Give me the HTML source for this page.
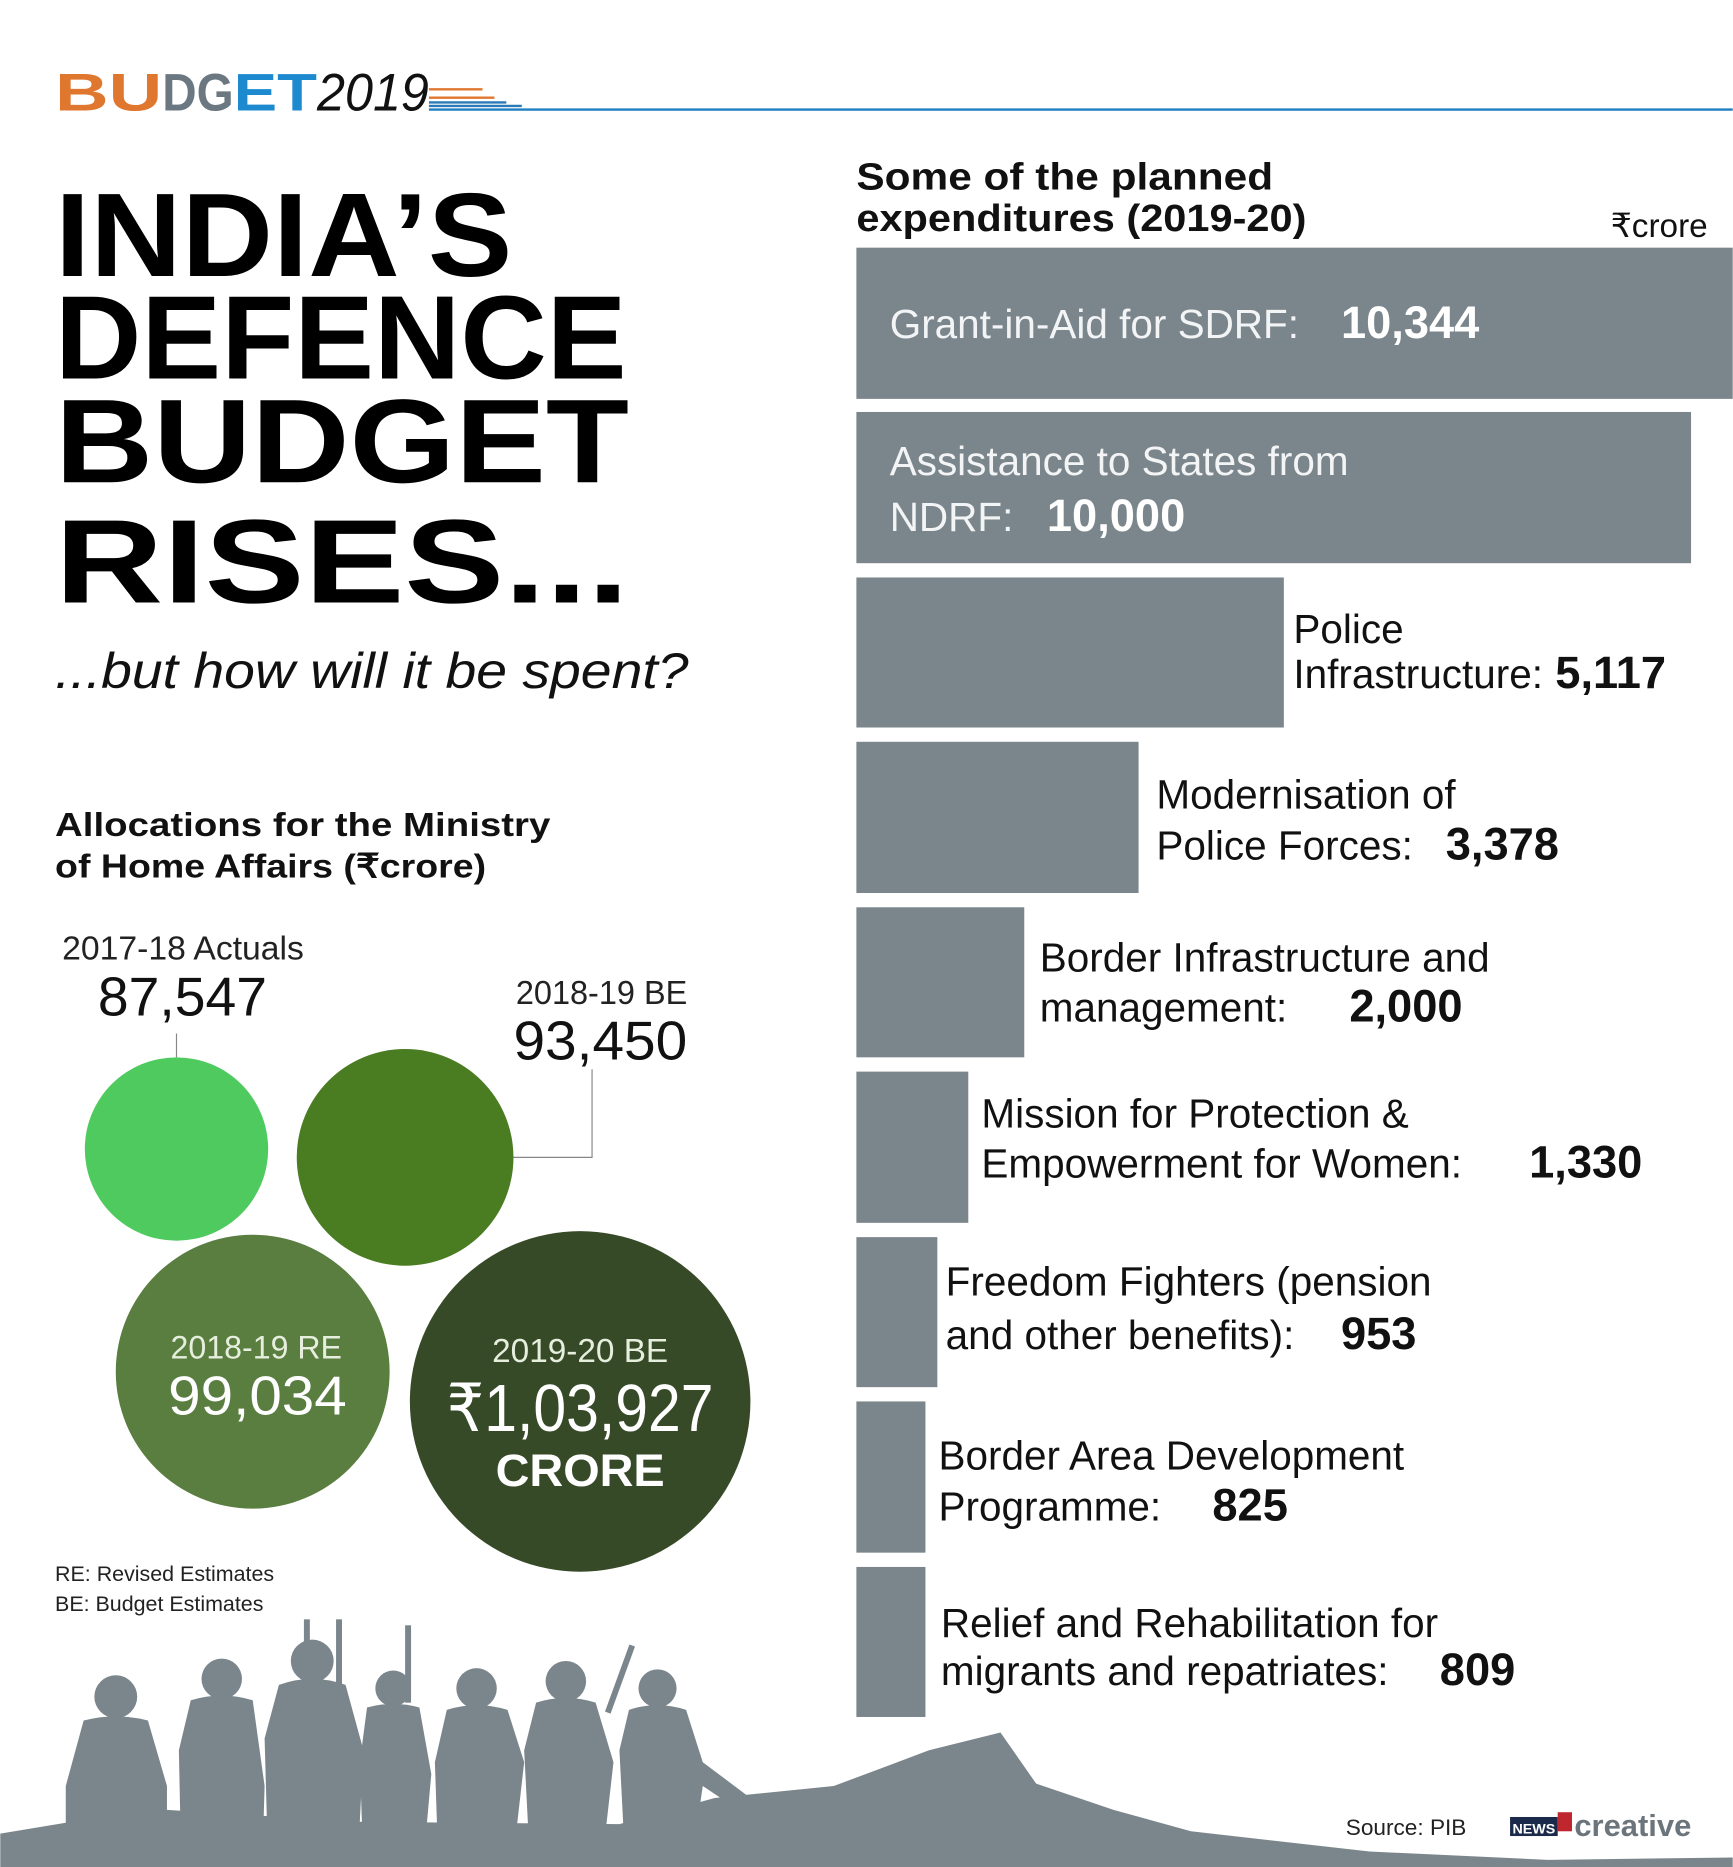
<!DOCTYPE html>
<html><head><meta charset="utf-8"><style>html,body{margin:0;padding:0;background:#fff}svg{display:block}</style></head>
<body>
<svg width="1733" height="1867" viewBox="0 0 1455 1568" xmlns="http://www.w3.org/2000/svg" font-family="Liberation Sans, sans-serif">
<rect width="1455" height="1568" fill="#fff"/>
<!-- header -->
<text x="46" y="93" font-size="44" font-weight="bold" fill="#e0772f" textLength="90" lengthAdjust="spacingAndGlyphs">BU</text>
<text x="136" y="93" font-size="44" font-weight="bold" fill="#6b7882" textLength="60" lengthAdjust="spacingAndGlyphs">DG</text>
<text x="196" y="93" font-size="44" font-weight="bold" fill="#1d8ad0" textLength="70" lengthAdjust="spacingAndGlyphs">ET</text>
<text x="266" y="93" font-size="44" font-style="italic" fill="#111" textLength="94" lengthAdjust="spacingAndGlyphs">2019</text>
<g stroke="#e0772f" stroke-width="2"><line x1="360" y1="75" x2="405" y2="75"/><line x1="360" y1="82" x2="415" y2="82"/></g>
<g stroke="#2a7ab8" stroke-width="2"><line x1="360" y1="86" x2="425" y2="86"/><line x1="360" y1="89" x2="438" y2="89"/></g>
<line x1="360" y1="92" x2="1455" y2="92" stroke="#1f7fc0" stroke-width="2"/>
<!-- title -->
<g font-weight="bold" fill="#000" font-size="100">
<text x="46" y="232" textLength="384" lengthAdjust="spacingAndGlyphs">INDIA’S</text>
<text x="46" y="318" textLength="480" lengthAdjust="spacingAndGlyphs">DEFENCE</text>
<text x="46" y="405" textLength="482" lengthAdjust="spacingAndGlyphs">BUDGET</text>
<text x="46" y="506" textLength="482" lengthAdjust="spacingAndGlyphs">RISES...</text>
</g>
<text x="46" y="578" font-size="42" font-style="italic" fill="#111" textLength="532" lengthAdjust="spacingAndGlyphs">...but how will it be spent?</text>
<text x="46" y="702" font-size="28" font-weight="bold" fill="#111" textLength="416" lengthAdjust="spacingAndGlyphs">Allocations for the Ministry</text>
<text x="46" y="737" font-size="28" font-weight="bold" fill="#111" textLength="362" lengthAdjust="spacingAndGlyphs">of Home Affairs (₹crore)</text>
<!-- circles -->
<text x="52" y="806" font-size="28" fill="#222" textLength="203" lengthAdjust="spacingAndGlyphs">2017-18 Actuals</text>
<text x="82" y="853" font-size="46" fill="#111" textLength="142" lengthAdjust="spacingAndGlyphs">87,547</text>
<line x1="148" y1="868" x2="148" y2="888" stroke="#888"/>
<circle cx="148" cy="965" r="77" fill="#4fca5f"/>
<text x="433" y="843" font-size="28" fill="#222" textLength="144" lengthAdjust="spacingAndGlyphs">2018-19 BE</text>
<text x="431" y="890" font-size="46" fill="#111" textLength="146" lengthAdjust="spacingAndGlyphs">93,450</text>
<polyline points="497,898 497,972 430,972" fill="none" stroke="#888"/>
<circle cx="340" cy="972" r="91" fill="#4a7c22"/>
<circle cx="212" cy="1152" r="115" fill="#5a7d40"/>
<text x="215" y="1141" font-size="27" fill="#e6eedd" text-anchor="middle">2018-19 RE</text>
<text x="216" y="1188" font-size="46" fill="#fff" text-anchor="middle" textLength="150" lengthAdjust="spacingAndGlyphs">99,034</text>
<circle cx="487" cy="1177" r="143" fill="#374a28"/>
<text x="487" y="1144" font-size="28" fill="#e6eedd" text-anchor="middle">2019-20 BE</text>
<text x="487" y="1202" font-size="56" fill="#fff" text-anchor="middle" textLength="224" lengthAdjust="spacingAndGlyphs">₹1,03,927</text>
<text x="487" y="1248" font-size="38" font-weight="bold" fill="#fff" text-anchor="middle" textLength="142" lengthAdjust="spacingAndGlyphs">CRORE</text>
<text x="46" y="1328" font-size="18" fill="#222">RE:  Revised Estimates</text>
<text x="46" y="1353" font-size="18" fill="#222">BE: Budget Estimates</text>
<!-- soldiers -->
<g fill="#7b868c">
<path d="M0,1568 L0,1540 L60,1530 L140,1520 L300,1530 L520,1532 L600,1510 L700,1500 L780,1470 L840,1455 L870,1498 L935,1520 L1000,1538 L1150,1555 L1300,1562 L1455,1560 L1455,1568 Z"/>
<circle cx="97" cy="1425" r="18"/><path d="M70,1445 Q97,1438 124,1445 L140,1500 L140,1568 L55,1568 L55,1500 Z"/>
<circle cx="186" cy="1410" r="17"/><path d="M160,1428 Q186,1420 212,1428 L222,1500 L220,1568 L152,1568 L150,1470 Z"/>
<circle cx="262" cy="1395" r="18"/><path d="M234,1415 Q262,1405 290,1415 L305,1470 L300,1568 L225,1568 L222,1460 Z"/>
<rect x="255" y="1360" width="5" height="70"/><rect x="282" y="1360" width="5" height="80"/><rect x="340" y="1365" width="5" height="65"/>
<circle cx="330" cy="1418" r="15"/><path d="M308,1434 Q330,1428 352,1434 L362,1490 L355,1568 L305,1568 L302,1480 Z"/>
<circle cx="400" cy="1418" r="17"/><path d="M375,1436 Q400,1428 426,1436 L440,1480 L430,1568 L368,1568 L365,1480 Z"/>
<circle cx="475" cy="1412" r="17"/><path d="M450,1430 Q475,1422 500,1430 L515,1480 L505,1568 L445,1568 L440,1470 Z"/>
<rect x="518" y="1380" width="5" height="60" transform="rotate(20 520 1410)"/>
<circle cx="552" cy="1418" r="16"/><path d="M528,1436 Q552,1428 576,1436 L590,1480 L630,1510 L620,1520 L590,1500 L580,1568 L525,1568 L520,1470 Z"/>
</g>
<!-- right panel -->
<text x="719" y="159" font-size="32" font-weight="bold" fill="#111" textLength="350" lengthAdjust="spacingAndGlyphs">Some of the planned</text>
<text x="719" y="194" font-size="32" font-weight="bold" fill="#111" textLength="378" lengthAdjust="spacingAndGlyphs">expenditures (2019-20)</text>
<text x="1434" y="199" font-size="28" fill="#111" text-anchor="end">₹crore</text>
<g fill="#7b868c">
<rect x="719" y="208" width="736" height="127"/>
<rect x="719" y="346" width="701" height="127"/>
<rect x="719" y="485" width="359" height="126"/>
<rect x="719" y="623" width="237" height="127"/>
<rect x="719" y="762" width="141" height="126"/>
<rect x="719" y="900" width="94" height="127"/>
<rect x="719" y="1039" width="68" height="126"/>
<rect x="719" y="1177" width="58" height="127"/>
<rect x="719" y="1316" width="58" height="126"/>
</g>
<g font-size="34" fill="#f2f4f5">
<text x="747" y="284">Grant-in-Aid for SDRF:</text>
<text x="1126" y="284" font-weight="bold" font-size="38" fill="#fff">10,344</text>
<text x="747" y="399">Assistance to States from</text>
<text x="747" y="446">NDRF:</text>
<text x="879" y="446" font-weight="bold" font-size="38" fill="#fff">10,000</text>
</g>
<g font-size="34" fill="#111">
<text x="1086" y="540">Police</text>
<text x="1086" y="578">Infrastructure:</text>
<text x="1306" y="578" font-weight="bold" font-size="38">5,117</text>
<text x="971" y="679">Modernisation of</text>
<text x="971" y="722">Police Forces:</text>
<text x="1214" y="722" font-weight="bold" font-size="38">3,378</text>
<text x="873" y="816">Border Infrastructure and</text>
<text x="873" y="858">management:</text>
<text x="1133" y="858" font-weight="bold" font-size="38">2,000</text>
<text x="824" y="947">Mission for Protection &amp;</text>
<text x="824" y="989">Empowerment for Women:</text>
<text x="1284" y="989" font-weight="bold" font-size="38">1,330</text>
<text x="794" y="1088">Freedom Fighters (pension</text>
<text x="794" y="1133">and other benefits):</text>
<text x="1126" y="1133" font-weight="bold" font-size="38">953</text>
<text x="788" y="1234">Border Area Development</text>
<text x="788" y="1277">Programme:</text>
<text x="1018" y="1277" font-weight="bold" font-size="38">825</text>
<text x="790" y="1375">Relief and Rehabilitation for</text>
<text x="790" y="1415">migrants and repatriates:</text>
<text x="1209" y="1415" font-weight="bold" font-size="38">809</text>
</g>
<text x="1130" y="1541" font-size="19" fill="#222">Source: PIB</text>
<rect x="1268" y="1526" width="40" height="16" fill="#1b2a4a"/>
<text x="1270" y="1540" font-size="12" font-weight="bold" fill="#fff">NEWS</text>
<rect x="1308" y="1522" width="12" height="16" fill="#c0262d"/>
<text x="1322" y="1542" font-size="26" font-weight="bold" fill="#6b757b">creative</text>
</svg>
</body></html>
